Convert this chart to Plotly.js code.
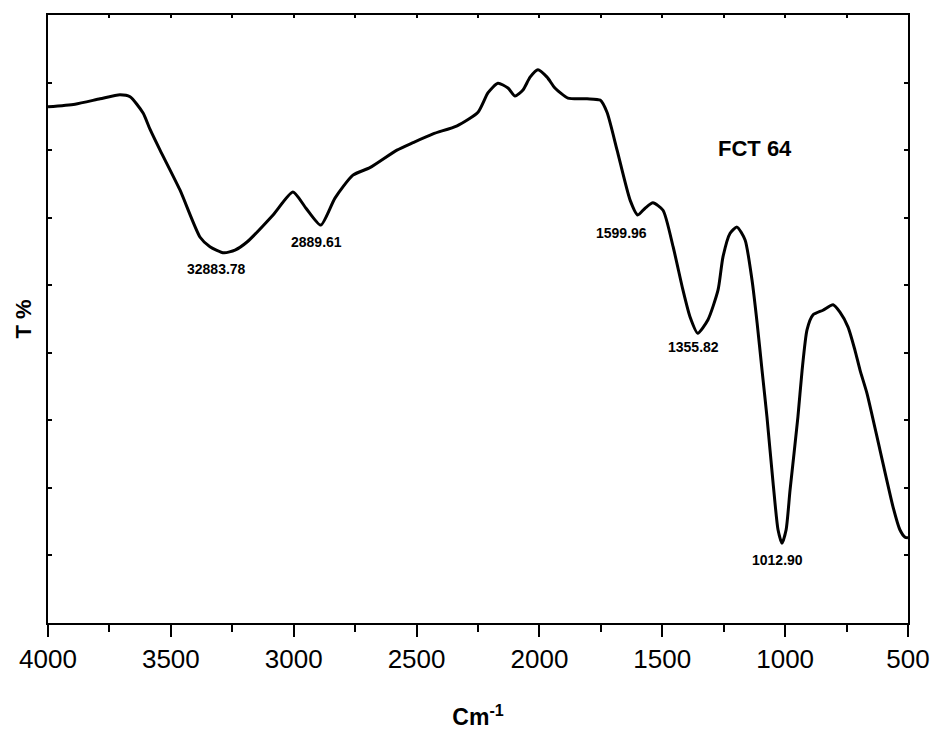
<!DOCTYPE html>
<html>
<head>
<meta charset="utf-8">
<script src="https://cdn.plot.ly/plotly-3.0.1.min.js"></script>
<style>html,body{margin:0;padding:0;background:#fff;}#chart{width:934px;height:731px;}</style>
</head>
<body>
<div id="chart"></div>
<script>
const wavenumber = [4000,3890,3788,3707,3666,3613,3585,3544,3463,3381,3341,3284,3239,3190,3084,3003,2950,2890,2832,2759,2690,2580,2515,2433,2335,2250,2209,2169,2128,2099,2067,2038,2006,1969,1937,1884,1806,1753,1725,1684,1631,1600,1570,1538,1497,1456,1416,1387,1356,1314,1273,1253,1224,1196,1163,1135,1114,1094,1074,1049,1029,1013,996,980,948,931,911,887,846,805,777,744,716,695,667,614,561,533,512,500];
const transmittance = [7.64,7.68,7.76,7.82,7.79,7.55,7.31,7.00,6.41,5.71,5.57,5.48,5.52,5.64,6.04,6.38,6.14,5.89,6.29,6.63,6.74,7.00,7.11,7.24,7.36,7.56,7.85,7.99,7.92,7.80,7.89,8.08,8.19,8.08,7.92,7.77,7.76,7.74,7.56,7.00,6.26,6.04,6.14,6.22,6.11,5.57,4.93,4.53,4.29,4.49,4.93,5.42,5.77,5.86,5.67,5.08,4.44,3.74,3.05,2.07,1.38,1.18,1.38,1.97,3.05,3.74,4.34,4.56,4.63,4.71,4.60,4.38,4.04,3.74,3.40,2.56,1.72,1.38,1.27,1.26];

const peakLabels = ["32883.78","2889.61","1599.96","1355.82","1012.90"];
const peakLabelX = [3316,2909,1668,1371,1033];
const peakLabelY = [5.24,5.64,5.77,4.09,0.93];
const sampleName = "FCT 64";
const sampleX = 1123, sampleY = 7.03;

const xTickVals = [4000,3500,3000,2500,2000,1500,1000,500];
const xTickText = ["4000","3500","3000","2500","2000","1500","1000","500"];

const FONT = "Arial, 'Liberation Sans', sans-serif";

const traces = [{
  x: wavenumber, y: transmittance, type: 'scatter', mode: 'lines',
  line: {color: '#000', width: 3, shape: 'spline', smoothing: 0.6},
  hoverinfo: 'skip', showlegend: false
}, {
  x: [4000], y: [0], xaxis: 'x2', yaxis: 'y', type: 'scatter', mode: 'none',
  hoverinfo: 'skip', showlegend: false
}];

const annotations = peakLabels.map((t, i) => ({
  x: peakLabelX[i], y: peakLabelY[i], xref: 'x', yref: 'y', text: '<b>' + t + '</b>',
  showarrow: false, font: {family: FONT, size: 14, color: '#000'}
}));
annotations.push({
  x: sampleX, y: sampleY, xref: 'x', yref: 'y', text: '<b>' + sampleName + '</b>',
  showarrow: false, font: {family: FONT, size: 22, color: '#000'}
});

const layout = {
  width: 934, height: 731,
  margin: {l: 48, r: 26, t: 15, b: 108},
  paper_bgcolor: '#fff', plot_bgcolor: '#fff',
  font: {family: FONT, color: '#000'},
  xaxis: {
    range: [4000, 500], autorange: false,
    tickvals: xTickVals, ticktext: xTickText,
    ticks: 'outside', ticklen: 12, tickwidth: 2, tickcolor: '#000',
    minor: {dtick: 250, ticks: 'outside', ticklen: 7, tickwidth: 2, tickcolor: '#000'},
    showline: true, linewidth: 2, linecolor: '#000', mirror: true,
    showgrid: false, zeroline: false,
    tickfont: {family: FONT, size: 26, color: '#000'},
    title: {text: '<b>Cm<sup>-1</sup></b>', font: {family: FONT, size: 23, color: '#000'}, standoff: 36}
  },
  xaxis2: {
    overlaying: 'x', side: 'top', range: [4000, 500], autorange: false,
    dtick: 250, tick0: 500, ticks: 'inside', ticklen: 3, tickwidth: 2, tickcolor: '#000',
    showticklabels: false, showgrid: false, zeroline: false, showline: false
  },
  yaxis: {
    range: [0, 9], autorange: false, dtick: 1, tick0: 0,
    ticks: 'inside', ticklen: 4, tickwidth: 2, tickcolor: '#000',
    showticklabels: false, showline: true, linewidth: 2, linecolor: '#000', mirror: 'ticks',
    showgrid: false, zeroline: false,
    title: {text: '<b>T %</b>', font: {family: FONT, size: 22, color: '#000'}, standoff: 8}
  },
  annotations: annotations,
  showlegend: false
};

Plotly.newPlot('chart', traces, layout, {displayModeBar: false, staticPlot: true});
</script>
</body>
</html>
